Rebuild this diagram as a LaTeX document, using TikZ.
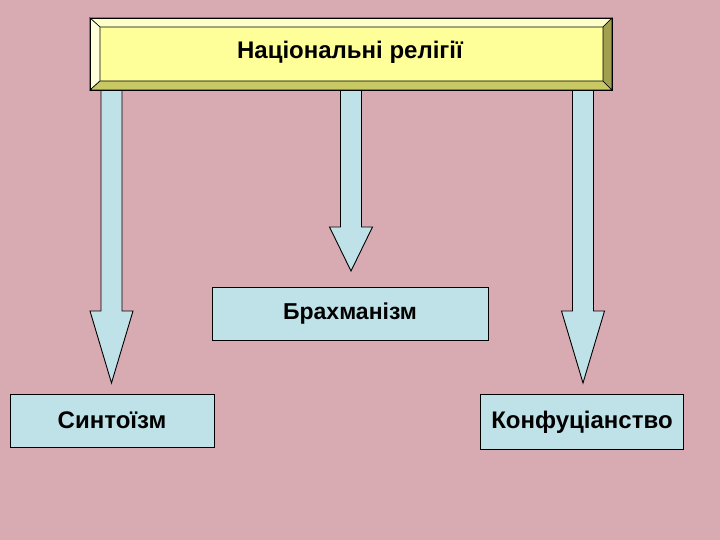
\documentclass[tikz,border=0pt]{standalone}
\usepackage{fontspec}
\setmainfont{Liberation Sans}
\definecolor{bgpink}{RGB}{216,170,178}
\definecolor{lblue}{RGB}{190,226,232}
\definecolor{yface}{RGB}{255,255,153}
\definecolor{ytop}{RGB}{255,255,200}
\definecolor{yleft}{RGB}{255,255,220}
\definecolor{ybot}{RGB}{200,200,100}
\definecolor{yright}{RGB}{160,160,80}
\begin{document}
\begin{tikzpicture}[x=1pt,y=-1pt,
  bluebox/.style={draw=black,line width=0.9pt,fill=lblue,inner sep=0pt,font=\fontsize{24}{28}\selectfont\bfseries},
  blockarrow/.style={draw=black,line width=0.9pt,fill=lblue,line join=miter},
  bevel/.style={draw=black,line width=0.6pt}]
\useasboundingbox (0,0) rectangle (720,540);
\fill[bgpink] (0,0) rectangle (720,540);
% arrows
\draw[blockarrow] (101,90) -- (101,311) -- (90,311) -- (111.5,383) -- (133,311) -- (122,311) -- (122,90);
\draw[blockarrow] (340.5,90) -- (340.5,227) -- (329.5,227) -- (351,271) -- (372.5,227) -- (361.5,227) -- (361.5,90);
\draw[blockarrow] (572.5,90) -- (572.5,311) -- (561.5,311) -- (583,383) -- (604.5,311) -- (593.5,311) -- (593.5,90);
% top bevel box
\node[inner sep=0pt,minimum width=522pt,minimum height=72pt] (top) at (351,54) {};
\fill[yface] (100,27) rectangle (603,81);
\filldraw[bevel,fill=ytop] (90,18) -- (612,18) -- (603,27) -- (100,27) -- cycle;
\filldraw[bevel,fill=yleft] (90,18) -- (100,27) -- (100,81) -- (90,90) -- cycle;
\filldraw[bevel,fill=ybot] (90,90) -- (100,81) -- (603,81) -- (612,90) -- cycle;
\filldraw[bevel,fill=yright] (612,18) -- (612,90) -- (603,81) -- (603,27) -- cycle;
\draw[line width=0.9pt] (90,18) rectangle (612,90);
\node[font=\fontsize{24}{28}\selectfont\bfseries] (title) at (350,52) {Національні релігії};
% boxes
\node[bluebox,minimum width=276pt,minimum height=53pt,font=\fontsize{23}{28}\selectfont\bfseries] (brahm) at (350,313.5) {Брахманізм};
\node[bluebox,minimum width=204pt,minimum height=53pt] (shinto) at (112,420.5) {Синтоїзм};
\node[bluebox,minimum width=203pt,minimum height=55pt] (conf) at (582,422) {Конфуціанство};
\end{tikzpicture}
\end{document}
